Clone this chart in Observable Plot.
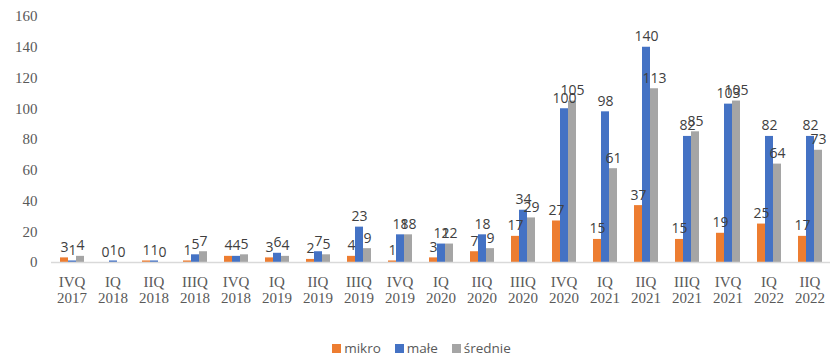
<!DOCTYPE html>
<html><head><meta charset="utf-8">
<script src="https://cdn.jsdelivr.net/npm/d3@7"></script>
<script src="https://cdn.jsdelivr.net/npm/@observablehq/plot@0.6"></script>
<style>
body{margin:0;background:#fff;}
#legend{display:flex;justify-content:center;gap:14px;font-family:"Open Sans",sans-serif;font-size:13.5px;color:#595959;height:16px;line-height:16px;padding-left:10px;}
#legend span.sw{display:inline-block;width:9px;height:9px;margin-right:3px;}
</style>
</head><body>
<div id="chart"></div>
<div id="legend"></div>
<script>
const quarters = ["IVQ\n2017","IQ\n2018","IIQ\n2018","IIIQ\n2018","IVQ\n2018","IQ\n2019","IIQ\n2019","IIIQ\n2019","IVQ\n2019","IQ\n2020","IIQ\n2020","IIIQ\n2020","IVQ\n2020","IQ\n2021","IIQ\n2021","IIIQ\n2021","IVQ\n2021","IQ\n2022","IIQ\n2022"];
const series = ["mikro","małe","średnie"];
const colors = ["#ED7D31","#4472C4","#A5A5A5"];
const mikro   = [3,0,1,1,4,3,2,4,1,3,7,17,27,15,37,15,19,25,17];
const male    = [1,1,1,5,4,6,7,23,18,12,18,34,100,98,140,82,103,82,82];
const srednie = [4,0,0,7,5,4,5,9,18,12,9,29,105,61,113,85,105,64,73];
const yTicks = [0,20,40,60,80,100,120,140,160];

const values = [mikro, male, srednie];
const data = [];
quarters.forEach((q,i)=>series.forEach((s,j)=>data.push({q, s, v: values[j][i]})));

const chart = Plot.plot({
  width: 833, height: 340,
  marginLeft: 47, marginRight: 0, marginTop: 16, marginBottom: 78,
  fx: {domain: quarters, padding: 0, label: null},
  x: {domain: series, paddingInner: 0, paddingOuter: 0.8, axis: null},
  y: {domain: [0,160], label: null},
  color: {domain: series, range: colors},
  style: {fontFamily: "'Liberation Serif', serif", fontSize: "15px", color: "#595959"},
  marks: [
    Plot.axisY({ticks: yTicks, tickSize: 0, tickPadding: 14, label: null, fontSize: 15}),
    Plot.axisFx({anchor: "bottom", tickSize: 0, tickPadding: 13, lineHeight: 1.08, label: null, fontSize: 15}),
    Plot.barY(data, {fx: "q", x: "s", y: "v", fill: "s"}),
    Plot.ruleY([0], {stroke: "#D9D9D9", strokeWidth: 1.5}),
    Plot.text(data, {fx: "q", x: "s", y: "v", text: d => String(d.v), lineAnchor: "bottom", dy: -6,
      fill: "#404040", fontFamily: "'Open Sans', sans-serif", fontSize: 14})
  ]
});
document.getElementById("chart").appendChild(chart);

const lg = document.getElementById("legend");
series.forEach((s,i)=>{
  const it = document.createElement("div");
  it.innerHTML = `<span class="sw" style="background:${colors[i]}"></span>${s}`;
  lg.appendChild(it);
});
</script>
</body></html>
